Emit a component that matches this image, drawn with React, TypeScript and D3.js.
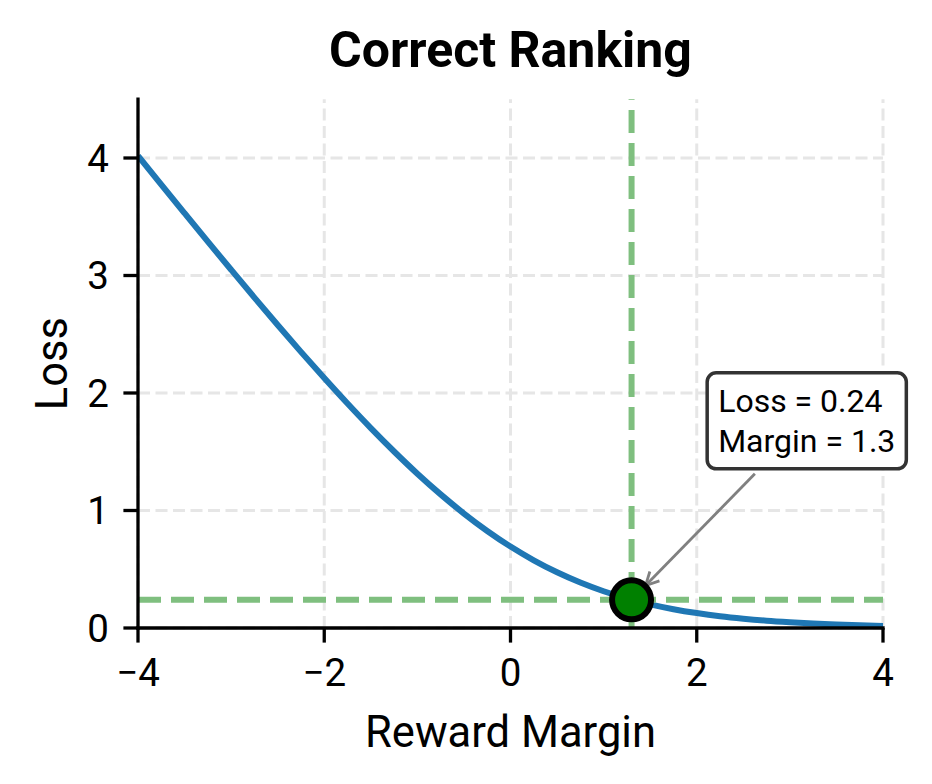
import { useEffect, useRef } from 'react';
import * as d3 from 'd3';

// Loss curve: loss vs. reward margin
const MARGINS = [
  -4, -3.75, -3.5, -3.25, -3, -2.75, -2.5, -2.25, -2, -1.75, -1.5, -1.25, -1, -0.75, -0.5, -0.25, 0,
  0.25, 0.5, 0.75, 1, 1.25, 1.5, 1.75, 2, 2.25, 2.5, 2.75, 3, 3.25, 3.5, 3.75, 4,
];
const LOSSES = [
  4.018, 3.773, 3.53, 3.288, 3.049, 2.812, 2.579, 2.35, 2.127, 1.91, 1.701, 1.502, 1.313, 1.137,
  0.974, 0.826, 0.693, 0.576, 0.474, 0.387, 0.313, 0.252, 0.201, 0.16, 0.127, 0.1, 0.079, 0.062,
  0.049, 0.038, 0.03, 0.023, 0.018,
];

const X_TICKS = [-4, -2, 0, 2, 4];
const Y_TICKS = [0, 1, 2, 3, 4];
const X_DOMAIN = [-4, 4];
const Y_DOMAIN = [0, 4.5];

const HIGHLIGHT_MARGIN = 1.3;
const HIGHLIGHT_LOSS = 0.24;
const ANNOTATION_LINES = ['Loss = 0.24', 'Margin = 1.3'];
const ANNOTATION_AT = [2.23, 1.84]; // data coords of first text baseline (left)

const TITLE = 'Correct Ranking';
const X_LABEL = 'Reward Margin';
const Y_LABEL = 'Loss';

const WIDTH = 932;
const HEIGHT = 784;
const PLOT = { left: 138, right: 883, top: 99.25, bottom: 628 } as const;
const FONT = 'Roboto, "Noto Sans", sans-serif';

export default function App() {
  const svgRef = useRef<SVGSVGElement | null>(null);

  useEffect(() => {
    const svgEl = svgRef.current;
    if (!svgEl) return;
    const svg = d3.select(svgEl);
    svg.selectAll('*').remove();

    const x = d3.scaleLinear().domain(X_DOMAIN).range([PLOT.left, PLOT.right]);
    const y = d3.scaleLinear().domain(Y_DOMAIN).range([PLOT.bottom, PLOT.top]);

    // ---- grid ----
    const grid = svg.append('g');
    grid
      .selectAll('line.vx')
      .data(X_TICKS)
      .join('line')
      .attr('x1', (d) => x(d))
      .attr('x2', (d) => x(d))
      .attr('y1', PLOT.bottom)
      .attr('y2', PLOT.top)
      .attr('stroke', '#e6e6e6')
      .attr('stroke-width', 3)
      .attr('stroke-dasharray', '12 5.5');
    grid
      .selectAll('line.hy')
      .data(Y_TICKS)
      .join('line')
      .attr('x1', PLOT.left)
      .attr('x2', PLOT.right)
      .attr('y1', (d) => y(d))
      .attr('y2', (d) => y(d))
      .attr('stroke', '#e6e6e6')
      .attr('stroke-width', 3)
      .attr('stroke-dasharray', '12 5.5');

    // ---- loss curve ----
    const points = MARGINS.map((m, i) => [m, LOSSES[i]] as [number, number]);
    const line = d3
      .line<[number, number]>()
      .x((d) => x(d[0]))
      .y((d) => y(d[1]))
      .curve(d3.curveMonotoneX);
    svg
      .append('path')
      .datum(points)
      .attr('fill', 'none')
      .attr('stroke', '#1f77b4')
      .attr('stroke-width', 6)
      .attr('d', line);

    // ---- reference lines ----
    svg
      .append('line')
      .attr('x1', x(HIGHLIGHT_MARGIN))
      .attr('x2', x(HIGHLIGHT_MARGIN))
      .attr('y1', PLOT.bottom)
      .attr('y2', PLOT.top)
      .attr('stroke', '#7fbf7f')
      .attr('stroke-width', 6)
      .attr('stroke-dasharray', '23 10');
    svg
      .append('line')
      .attr('x1', PLOT.left)
      .attr('x2', PLOT.right)
      .attr('y1', y(HIGHLIGHT_LOSS))
      .attr('y2', y(HIGHLIGHT_LOSS))
      .attr('stroke', '#7fbf7f')
      .attr('stroke-width', 6)
      .attr('stroke-dasharray', '23 10');

    // ---- axes (left + bottom spines only) ----
    const axisColor = '#000';
    svg
      .append('line')
      .attr('x1', PLOT.left)
      .attr('x2', PLOT.left)
      .attr('y1', PLOT.top)
      .attr('y2', PLOT.bottom)
      .attr('stroke', axisColor)
      .attr('stroke-width', 3.3)
      .attr('stroke-linecap', 'square');
    svg
      .append('line')
      .attr('x1', PLOT.left)
      .attr('x2', PLOT.right)
      .attr('y1', PLOT.bottom)
      .attr('y2', PLOT.bottom)
      .attr('stroke', axisColor)
      .attr('stroke-width', 3.3)
      .attr('stroke-linecap', 'square');

    const tickLen = 14.6;
    const tickPad = 14.6;
    const fmt = (d: number) => (d < 0 ? `\u2212${Math.abs(d)}` : `${d}`);

    const xt = svg
      .append('g')
      .selectAll('g')
      .data(X_TICKS)
      .join('g')
      .attr('transform', (d) => `translate(${x(d)}, ${PLOT.bottom})`);
    xt.append('line').attr('y1', 0).attr('y2', tickLen).attr('stroke', axisColor).attr('stroke-width', 3.3);
    xt.append('text')
      .attr('y', tickLen + tickPad)
      .attr('dy', '0.74em')
      .attr('text-anchor', 'middle')
      .attr('font-family', FONT)
      .attr('font-size', 38.5)
      .attr('fill', '#000')
      .text((d) => fmt(d));

    const yt = svg
      .append('g')
      .selectAll('g')
      .data(Y_TICKS)
      .join('g')
      .attr('transform', (d) => `translate(${PLOT.left}, ${y(d)})`);
    yt.append('line').attr('x1', -tickLen).attr('x2', 0).attr('stroke', axisColor).attr('stroke-width', 3.3);
    yt.append('text')
      .attr('x', -tickLen - tickPad)
      .attr('dy', '0.36em')
      .attr('text-anchor', 'end')
      .attr('font-family', FONT)
      .attr('font-size', 38.5)
      .attr('fill', '#000')
      .text((d) => fmt(d));

    // ---- labels ----
    svg
      .append('text')
      .attr('x', (PLOT.left + PLOT.right) / 2)
      .attr('y', 747)
      .attr('text-anchor', 'middle')
      .attr('font-family', FONT)
      .attr('font-size', 43.5)
      .attr('fill', '#000')
      .text(X_LABEL);
    svg
      .append('text')
      .attr('transform', `translate(67, ${(PLOT.top + PLOT.bottom) / 2}) rotate(-90)`)
      .attr('text-anchor', 'middle')
      .attr('font-family', FONT)
      .attr('font-size', 43.5)
      .attr('fill', '#000')
      .text(Y_LABEL);
    svg
      .append('text')
      .attr('x', (PLOT.left + PLOT.right) / 2)
      .attr('y', 67)
      .attr('text-anchor', 'middle')
      .attr('font-family', FONT)
      .attr('font-size', 50)
      .attr('font-weight', 'bold')
      .attr('fill', '#000')
      .text(TITLE);

    // ---- highlighted point ----
    const px = x(HIGHLIGHT_MARGIN);
    const py = y(HIGHLIGHT_LOSS);

    // ---- annotation box + arrow ----
    const ann = svg.append('g');
    const box = ann.append('rect');
    const txt = ann
      .append('text')
      .attr('font-family', FONT)
      .attr('font-size', 32)
      .attr('fill', '#000');
    ANNOTATION_LINES.forEach((s, i) => {
      txt
        .append('tspan')
        .attr('x', x(ANNOTATION_AT[0]))
        .attr('y', y(ANNOTATION_AT[1]) + i * 40)
        .text(s);
    });
    const bb = (txt.node() as SVGTextElement).getBBox();
    const padX = 11;
    const padY = 9;
    const bx0 = bb.x - padX;
    const by0 = bb.y - padY;
    const bw = bb.width + padX * 2;
    const bh = bb.height + padY * 2;
    box
      .attr('x', bx0)
      .attr('y', by0)
      .attr('width', bw)
      .attr('height', bh)
      .attr('rx', 9)
      .attr('fill', '#fff')
      .attr('stroke', '#333')
      .attr('stroke-width', 3.5);

    // arrow from box centre toward the point, clipped at the box edge
    const cx = bx0 + bw / 2;
    const cy = by0 + bh / 2;
    const dx = px - cx;
    const dy = py - cy;
    const len = Math.hypot(dx, dy);
    const ux = dx / len;
    const uy = dy / len;
    const tExit = Math.min(Math.abs(bw / 2 / ux), Math.abs(bh / 2 / uy));
    const sx = cx + ux * (tExit + 7);
    const sy = cy + uy * (tExit + 7);
    const ex = px - ux * 20;
    const ey = py - uy * 20;
    const headL = 13;
    const headW = 6.7;
    const arrow = svg.append('g').attr('stroke', '#808080').attr('stroke-width', 2.8).attr('fill', 'none');
    arrow.append('line').attr('x1', sx).attr('y1', sy).attr('x2', ex).attr('y2', ey);
    arrow
      .append('path')
      .attr(
        'd',
        `M${ex - ux * headL - uy * headW},${ey - uy * headL + ux * headW}L${ex},${ey}L${ex - ux * headL + uy * headW},${ey - uy * headL - ux * headW}`,
      );

    svg
      .append('circle')
      .attr('cx', px)
      .attr('cy', py)
      .attr('r', 19.5)
      .attr('fill', '#008000')
      .attr('stroke', '#000')
      .attr('stroke-width', 6);
  }, []);

  return (
    <svg
      ref={svgRef}
      width={WIDTH}
      height={HEIGHT}
      viewBox={`0 0 ${WIDTH} ${HEIGHT}`}
      style={{ position: 'absolute', left: 0, top: 0, display: 'block', background: '#fff' }}
    />
  );
}
